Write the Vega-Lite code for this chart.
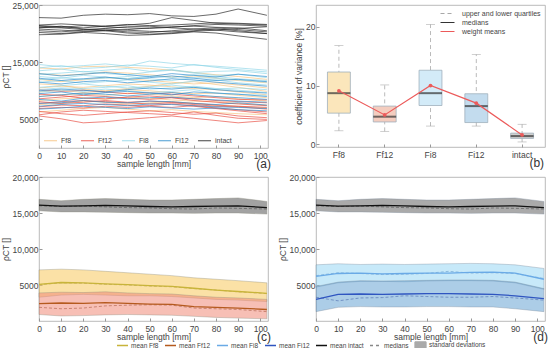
{
"$schema": "https://vega.github.io/schema/vega-lite/v6.json",
"padding": {"left": 0, "top": 0, "right": 0, "bottom": 0},
"background": "white",
"config": {
  "font": "Liberation Sans",
  "view": {"stroke": "#a8a8a8", "strokeWidth": 0.8},
  "axis": {"labelFontSize": 8.5, "titleFontSize": 8.5, "labelColor": "#444", "titleColor": "#444", "titleFontWeight": "normal", "grid": false, "domain": false, "tickColor": "#999", "tickSize": -3, "labelPadding": 4, "labelOverlap": false, "labelFlush": false},
  "axisX": {"labelPadding": 6},
  "legend": {"labelColor": "#444", "title": null}
},
"datasets": {
  "a": [
{"g":"Ff8","i":1,"x":0,"y":14000},{"g":"Ff8","i":1,"x":10,"y":13800},{"g":"Ff8","i":1,"x":20,"y":14200},{"g":"Ff8","i":1,"x":30,"y":14300},{"g":"Ff8","i":1,"x":40,"y":14100},{"g":"Ff8","i":1,"x":50,"y":13900},{"g":"Ff8","i":1,"x":60,"y":13600},{"g":"Ff8","i":1,"x":70,"y":13200},{"g":"Ff8","i":1,"x":80,"y":12800},{"g":"Ff8","i":1,"x":90,"y":12500},{"g":"Ff8","i":1,"x":103,"y":12000},
{"g":"Ff8","i":2,"x":0,"y":12000},{"g":"Ff8","i":2,"x":10,"y":11600},{"g":"Ff8","i":2,"x":20,"y":11900},{"g":"Ff8","i":2,"x":30,"y":12300},{"g":"Ff8","i":2,"x":40,"y":12100},{"g":"Ff8","i":2,"x":50,"y":11800},{"g":"Ff8","i":2,"x":60,"y":11500},{"g":"Ff8","i":2,"x":70,"y":11200},{"g":"Ff8","i":2,"x":80,"y":11400},{"g":"Ff8","i":2,"x":90,"y":11000},{"g":"Ff8","i":2,"x":103,"y":10500},
{"g":"Ff8","i":3,"x":0,"y":10500},{"g":"Ff8","i":3,"x":10,"y":10800},{"g":"Ff8","i":3,"x":20,"y":10600},{"g":"Ff8","i":3,"x":30,"y":10900},{"g":"Ff8","i":3,"x":40,"y":11200},{"g":"Ff8","i":3,"x":50,"y":11000},{"g":"Ff8","i":3,"x":60,"y":10700},{"g":"Ff8","i":3,"x":70,"y":10400},{"g":"Ff8","i":3,"x":80,"y":10200},{"g":"Ff8","i":3,"x":90,"y":9800},{"g":"Ff8","i":3,"x":103,"y":9300},
{"g":"Ff8","i":4,"x":0,"y":9000},{"g":"Ff8","i":4,"x":10,"y":9300},{"g":"Ff8","i":4,"x":20,"y":9500},{"g":"Ff8","i":4,"x":30,"y":9200},{"g":"Ff8","i":4,"x":40,"y":9600},{"g":"Ff8","i":4,"x":50,"y":9400},{"g":"Ff8","i":4,"x":60,"y":9100},{"g":"Ff8","i":4,"x":70,"y":8800},{"g":"Ff8","i":4,"x":80,"y":9000},{"g":"Ff8","i":4,"x":90,"y":8600},{"g":"Ff8","i":4,"x":103,"y":8200},
{"g":"Ff8","i":5,"x":0,"y":7600},{"g":"Ff8","i":5,"x":10,"y":7800},{"g":"Ff8","i":5,"x":20,"y":8200},{"g":"Ff8","i":5,"x":30,"y":8000},{"g":"Ff8","i":5,"x":40,"y":7700},{"g":"Ff8","i":5,"x":50,"y":7900},{"g":"Ff8","i":5,"x":60,"y":8100},{"g":"Ff8","i":5,"x":70,"y":7800},{"g":"Ff8","i":5,"x":80,"y":7500},{"g":"Ff8","i":5,"x":90,"y":7300},{"g":"Ff8","i":5,"x":103,"y":7000},
{"g":"Ff8","i":6,"x":0,"y":6300},{"g":"Ff8","i":6,"x":10,"y":6600},{"g":"Ff8","i":6,"x":20,"y":6900},{"g":"Ff8","i":6,"x":30,"y":7100},{"g":"Ff8","i":6,"x":40,"y":6800},{"g":"Ff8","i":6,"x":50,"y":6500},{"g":"Ff8","i":6,"x":60,"y":6700},{"g":"Ff8","i":6,"x":70,"y":6400},{"g":"Ff8","i":6,"x":80,"y":6200},{"g":"Ff8","i":6,"x":90,"y":6000},{"g":"Ff8","i":6,"x":103,"y":5800},
{"g":"Ff8","i":7,"x":0,"y":11200},{"g":"Ff8","i":7,"x":10,"y":11000},{"g":"Ff8","i":7,"x":20,"y":10300},{"g":"Ff8","i":7,"x":30,"y":10000},{"g":"Ff8","i":7,"x":40,"y":10400},{"g":"Ff8","i":7,"x":50,"y":10800},{"g":"Ff8","i":7,"x":60,"y":11300},{"g":"Ff8","i":7,"x":70,"y":11600},{"g":"Ff8","i":7,"x":80,"y":11100},{"g":"Ff8","i":7,"x":90,"y":10600},{"g":"Ff8","i":7,"x":103,"y":9900},
{"g":"Ff8","i":39,"x":0,"y":13000},{"g":"Ff8","i":39,"x":10,"y":12700},{"g":"Ff8","i":39,"x":20,"y":12900},{"g":"Ff8","i":39,"x":30,"y":13300},{"g":"Ff8","i":39,"x":40,"y":13100},{"g":"Ff8","i":39,"x":50,"y":12800},{"g":"Ff8","i":39,"x":60,"y":12400},{"g":"Ff8","i":39,"x":70,"y":12600},{"g":"Ff8","i":39,"x":80,"y":12200},{"g":"Ff8","i":39,"x":90,"y":11800},{"g":"Ff8","i":39,"x":103,"y":11400},
{"g":"Ff8","i":40,"x":0,"y":8300},{"g":"Ff8","i":40,"x":10,"y":8600},{"g":"Ff8","i":40,"x":20,"y":8800},{"g":"Ff8","i":40,"x":30,"y":8500},{"g":"Ff8","i":40,"x":40,"y":8900},{"g":"Ff8","i":40,"x":50,"y":8700},{"g":"Ff8","i":40,"x":60,"y":8400},{"g":"Ff8","i":40,"x":70,"y":8200},{"g":"Ff8","i":40,"x":80,"y":8100},{"g":"Ff8","i":40,"x":90,"y":7800},{"g":"Ff8","i":40,"x":103,"y":7500},
{"g":"Ff8","i":41,"x":0,"y":9800},{"g":"Ff8","i":41,"x":10,"y":10100},{"g":"Ff8","i":41,"x":20,"y":9700},{"g":"Ff8","i":41,"x":30,"y":9900},{"g":"Ff8","i":41,"x":40,"y":10200},{"g":"Ff8","i":41,"x":50,"y":10000},{"g":"Ff8","i":41,"x":60,"y":9700},{"g":"Ff8","i":41,"x":70,"y":9500},{"g":"Ff8","i":41,"x":80,"y":9600},{"g":"Ff8","i":41,"x":90,"y":9200},{"g":"Ff8","i":41,"x":103,"y":8800},
{"g":"Ff12","i":8,"x":0,"y":10200},{"g":"Ff12","i":8,"x":10,"y":9900},{"g":"Ff12","i":8,"x":20,"y":10100},{"g":"Ff12","i":8,"x":30,"y":9800},{"g":"Ff12","i":8,"x":40,"y":9500},{"g":"Ff12","i":8,"x":50,"y":9700},{"g":"Ff12","i":8,"x":60,"y":9400},{"g":"Ff12","i":8,"x":70,"y":9100},{"g":"Ff12","i":8,"x":80,"y":8800},{"g":"Ff12","i":8,"x":90,"y":8500},{"g":"Ff12","i":8,"x":103,"y":8400},
{"g":"Ff12","i":9,"x":0,"y":8600},{"g":"Ff12","i":9,"x":10,"y":8900},{"g":"Ff12","i":9,"x":20,"y":9200},{"g":"Ff12","i":9,"x":30,"y":9000},{"g":"Ff12","i":9,"x":40,"y":8700},{"g":"Ff12","i":9,"x":50,"y":8500},{"g":"Ff12","i":9,"x":60,"y":8800},{"g":"Ff12","i":9,"x":70,"y":8300},{"g":"Ff12","i":9,"x":80,"y":8000},{"g":"Ff12","i":9,"x":90,"y":7700},{"g":"Ff12","i":9,"x":103,"y":7400},
{"g":"Ff12","i":10,"x":0,"y":7200},{"g":"Ff12","i":10,"x":10,"y":7500},{"g":"Ff12","i":10,"x":20,"y":7400},{"g":"Ff12","i":10,"x":30,"y":7700},{"g":"Ff12","i":10,"x":40,"y":7500},{"g":"Ff12","i":10,"x":50,"y":7300},{"g":"Ff12","i":10,"x":60,"y":7100},{"g":"Ff12","i":10,"x":70,"y":7400},{"g":"Ff12","i":10,"x":80,"y":7000},{"g":"Ff12","i":10,"x":90,"y":6700},{"g":"Ff12","i":10,"x":103,"y":6300},
{"g":"Ff12","i":11,"x":0,"y":6400},{"g":"Ff12","i":11,"x":10,"y":6000},{"g":"Ff12","i":11,"x":20,"y":5700},{"g":"Ff12","i":11,"x":30,"y":6000},{"g":"Ff12","i":11,"x":40,"y":6300},{"g":"Ff12","i":11,"x":50,"y":6500},{"g":"Ff12","i":11,"x":60,"y":6200},{"g":"Ff12","i":11,"x":70,"y":5900},{"g":"Ff12","i":11,"x":80,"y":6100},{"g":"Ff12","i":11,"x":90,"y":5600},{"g":"Ff12","i":11,"x":103,"y":5300},
{"g":"Ff12","i":12,"x":0,"y":5600},{"g":"Ff12","i":12,"x":10,"y":5100},{"g":"Ff12","i":12,"x":20,"y":4400},{"g":"Ff12","i":12,"x":30,"y":4600},{"g":"Ff12","i":12,"x":40,"y":5000},{"g":"Ff12","i":12,"x":50,"y":5300},{"g":"Ff12","i":12,"x":60,"y":5600},{"g":"Ff12","i":12,"x":70,"y":5200},{"g":"Ff12","i":12,"x":80,"y":4800},{"g":"Ff12","i":12,"x":90,"y":4400},{"g":"Ff12","i":12,"x":103,"y":4800},
{"g":"Ff12","i":13,"x":0,"y":6900},{"g":"Ff12","i":13,"x":10,"y":7100},{"g":"Ff12","i":13,"x":20,"y":7000},{"g":"Ff12","i":13,"x":30,"y":7300},{"g":"Ff12","i":13,"x":40,"y":7100},{"g":"Ff12","i":13,"x":50,"y":7400},{"g":"Ff12","i":13,"x":60,"y":7700},{"g":"Ff12","i":13,"x":70,"y":7300},{"g":"Ff12","i":13,"x":80,"y":6900},{"g":"Ff12","i":13,"x":90,"y":6500},{"g":"Ff12","i":13,"x":103,"y":6000},
{"g":"Ff12","i":14,"x":0,"y":9400},{"g":"Ff12","i":14,"x":10,"y":9200},{"g":"Ff12","i":14,"x":20,"y":8700},{"g":"Ff12","i":14,"x":30,"y":8600},{"g":"Ff12","i":14,"x":40,"y":8900},{"g":"Ff12","i":14,"x":50,"y":9100},{"g":"Ff12","i":14,"x":60,"y":8800},{"g":"Ff12","i":14,"x":70,"y":8600},{"g":"Ff12","i":14,"x":80,"y":8300},{"g":"Ff12","i":14,"x":90,"y":8100},{"g":"Ff12","i":14,"x":103,"y":7900},
{"g":"Ff12","i":42,"x":0,"y":7800},{"g":"Ff12","i":42,"x":10,"y":8100},{"g":"Ff12","i":42,"x":20,"y":8300},{"g":"Ff12","i":42,"x":30,"y":8100},{"g":"Ff12","i":42,"x":40,"y":7900},{"g":"Ff12","i":42,"x":50,"y":7700},{"g":"Ff12","i":42,"x":60,"y":7900},{"g":"Ff12","i":42,"x":70,"y":7600},{"g":"Ff12","i":42,"x":80,"y":7300},{"g":"Ff12","i":42,"x":90,"y":7200},{"g":"Ff12","i":42,"x":103,"y":6800},
{"g":"Ff12","i":43,"x":0,"y":5800},{"g":"Ff12","i":43,"x":10,"y":6300},{"g":"Ff12","i":43,"x":20,"y":6600},{"g":"Ff12","i":43,"x":30,"y":6400},{"g":"Ff12","i":43,"x":40,"y":6200},{"g":"Ff12","i":43,"x":50,"y":6000},{"g":"Ff12","i":43,"x":60,"y":5800},{"g":"Ff12","i":43,"x":70,"y":6300},{"g":"Ff12","i":43,"x":80,"y":5700},{"g":"Ff12","i":43,"x":90,"y":5200},{"g":"Ff12","i":43,"x":103,"y":5000},
{"g":"Ff12","i":44,"x":0,"y":8100},{"g":"Ff12","i":44,"x":10,"y":7800},{"g":"Ff12","i":44,"x":20,"y":8000},{"g":"Ff12","i":44,"x":30,"y":8300},{"g":"Ff12","i":44,"x":40,"y":8000},{"g":"Ff12","i":44,"x":50,"y":8200},{"g":"Ff12","i":44,"x":60,"y":8000},{"g":"Ff12","i":44,"x":70,"y":7800},{"g":"Ff12","i":44,"x":80,"y":7500},{"g":"Ff12","i":44,"x":90,"y":7300},{"g":"Ff12","i":44,"x":103,"y":7100},
{"g":"Fi8","i":15,"x":0,"y":14600},{"g":"Fi8","i":15,"x":10,"y":14200},{"g":"Fi8","i":15,"x":20,"y":14400},{"g":"Fi8","i":15,"x":30,"y":14700},{"g":"Fi8","i":15,"x":40,"y":14300},{"g":"Fi8","i":15,"x":50,"y":15200},{"g":"Fi8","i":15,"x":60,"y":14800},{"g":"Fi8","i":15,"x":70,"y":14500},{"g":"Fi8","i":15,"x":80,"y":14300},{"g":"Fi8","i":15,"x":90,"y":14000},{"g":"Fi8","i":15,"x":103,"y":13600},
{"g":"Fi8","i":16,"x":0,"y":13500},{"g":"Fi8","i":16,"x":10,"y":13800},{"g":"Fi8","i":16,"x":20,"y":13300},{"g":"Fi8","i":16,"x":30,"y":13600},{"g":"Fi8","i":16,"x":40,"y":13900},{"g":"Fi8","i":16,"x":50,"y":13400},{"g":"Fi8","i":16,"x":60,"y":13700},{"g":"Fi8","i":16,"x":70,"y":13200},{"g":"Fi8","i":16,"x":80,"y":13400},{"g":"Fi8","i":16,"x":90,"y":13500},{"g":"Fi8","i":16,"x":103,"y":13000},
{"g":"Fi8","i":17,"x":0,"y":12500},{"g":"Fi8","i":17,"x":10,"y":12200},{"g":"Fi8","i":17,"x":20,"y":12700},{"g":"Fi8","i":17,"x":30,"y":12400},{"g":"Fi8","i":17,"x":40,"y":12100},{"g":"Fi8","i":17,"x":50,"y":12600},{"g":"Fi8","i":17,"x":60,"y":12300},{"g":"Fi8","i":17,"x":70,"y":12800},{"g":"Fi8","i":17,"x":80,"y":12500},{"g":"Fi8","i":17,"x":90,"y":12100},{"g":"Fi8","i":17,"x":103,"y":11800},
{"g":"Fi8","i":18,"x":0,"y":11500},{"g":"Fi8","i":18,"x":10,"y":11800},{"g":"Fi8","i":18,"x":20,"y":11300},{"g":"Fi8","i":18,"x":30,"y":11600},{"g":"Fi8","i":18,"x":40,"y":11900},{"g":"Fi8","i":18,"x":50,"y":11500},{"g":"Fi8","i":18,"x":60,"y":11200},{"g":"Fi8","i":18,"x":70,"y":11700},{"g":"Fi8","i":18,"x":80,"y":11900},{"g":"Fi8","i":18,"x":90,"y":11400},{"g":"Fi8","i":18,"x":103,"y":11000},
{"g":"Fi8","i":19,"x":0,"y":10600},{"g":"Fi8","i":19,"x":10,"y":10900},{"g":"Fi8","i":19,"x":20,"y":11200},{"g":"Fi8","i":19,"x":30,"y":10800},{"g":"Fi8","i":19,"x":40,"y":10500},{"g":"Fi8","i":19,"x":50,"y":10700},{"g":"Fi8","i":19,"x":60,"y":11000},{"g":"Fi8","i":19,"x":70,"y":10600},{"g":"Fi8","i":19,"x":80,"y":10300},{"g":"Fi8","i":19,"x":90,"y":10500},{"g":"Fi8","i":19,"x":103,"y":10200},
{"g":"Fi8","i":20,"x":0,"y":9800},{"g":"Fi8","i":20,"x":10,"y":10100},{"g":"Fi8","i":20,"x":20,"y":9900},{"g":"Fi8","i":20,"x":30,"y":10300},{"g":"Fi8","i":20,"x":40,"y":10000},{"g":"Fi8","i":20,"x":50,"y":9700},{"g":"Fi8","i":20,"x":60,"y":9900},{"g":"Fi8","i":20,"x":70,"y":10200},{"g":"Fi8","i":20,"x":80,"y":9600},{"g":"Fi8","i":20,"x":90,"y":9400},{"g":"Fi8","i":20,"x":103,"y":9200},
{"g":"Fi8","i":21,"x":0,"y":12900},{"g":"Fi8","i":21,"x":10,"y":13100},{"g":"Fi8","i":21,"x":20,"y":13400},{"g":"Fi8","i":21,"x":30,"y":13000},{"g":"Fi8","i":21,"x":40,"y":12800},{"g":"Fi8","i":21,"x":50,"y":13300},{"g":"Fi8","i":21,"x":60,"y":13600},{"g":"Fi8","i":21,"x":70,"y":13100},{"g":"Fi8","i":21,"x":80,"y":12700},{"g":"Fi8","i":21,"x":90,"y":12900},{"g":"Fi8","i":21,"x":103,"y":12300},
{"g":"Fi8","i":45,"x":0,"y":14000},{"g":"Fi8","i":45,"x":10,"y":14400},{"g":"Fi8","i":45,"x":20,"y":13900},{"g":"Fi8","i":45,"x":30,"y":14100},{"g":"Fi8","i":45,"x":40,"y":14500},{"g":"Fi8","i":45,"x":50,"y":14300},{"g":"Fi8","i":45,"x":60,"y":14000},{"g":"Fi8","i":45,"x":70,"y":14600},{"g":"Fi8","i":45,"x":80,"y":14100},{"g":"Fi8","i":45,"x":90,"y":13700},{"g":"Fi8","i":45,"x":103,"y":13300},
{"g":"Fi8","i":46,"x":0,"y":11900},{"g":"Fi8","i":46,"x":10,"y":12300},{"g":"Fi8","i":46,"x":20,"y":12000},{"g":"Fi8","i":46,"x":30,"y":12200},{"g":"Fi8","i":46,"x":40,"y":12500},{"g":"Fi8","i":46,"x":50,"y":12100},{"g":"Fi8","i":46,"x":60,"y":11800},{"g":"Fi8","i":46,"x":70,"y":12300},{"g":"Fi8","i":46,"x":80,"y":12200},{"g":"Fi8","i":46,"x":90,"y":11900},{"g":"Fi8","i":46,"x":103,"y":11500},
{"g":"Fi8","i":47,"x":0,"y":10200},{"g":"Fi8","i":47,"x":10,"y":10500},{"g":"Fi8","i":47,"x":20,"y":10400},{"g":"Fi8","i":47,"x":30,"y":10600},{"g":"Fi8","i":47,"x":40,"y":10900},{"g":"Fi8","i":47,"x":50,"y":10300},{"g":"Fi8","i":47,"x":60,"y":10500},{"g":"Fi8","i":47,"x":70,"y":10800},{"g":"Fi8","i":47,"x":80,"y":10400},{"g":"Fi8","i":47,"x":90,"y":10100},{"g":"Fi8","i":47,"x":103,"y":9700},
{"g":"Fi12","i":22,"x":0,"y":13000},{"g":"Fi12","i":22,"x":10,"y":12600},{"g":"Fi12","i":22,"x":20,"y":12900},{"g":"Fi12","i":22,"x":30,"y":13200},{"g":"Fi12","i":22,"x":40,"y":12800},{"g":"Fi12","i":22,"x":50,"y":12500},{"g":"Fi12","i":22,"x":60,"y":13000},{"g":"Fi12","i":22,"x":70,"y":12700},{"g":"Fi12","i":22,"x":80,"y":12400},{"g":"Fi12","i":22,"x":90,"y":12900},{"g":"Fi12","i":22,"x":103,"y":12500},
{"g":"Fi12","i":23,"x":0,"y":11500},{"g":"Fi12","i":23,"x":10,"y":11200},{"g":"Fi12","i":23,"x":20,"y":11600},{"g":"Fi12","i":23,"x":30,"y":11800},{"g":"Fi12","i":23,"x":40,"y":11400},{"g":"Fi12","i":23,"x":50,"y":11700},{"g":"Fi12","i":23,"x":60,"y":12100},{"g":"Fi12","i":23,"x":70,"y":11900},{"g":"Fi12","i":23,"x":80,"y":11500},{"g":"Fi12","i":23,"x":90,"y":11200},{"g":"Fi12","i":23,"x":103,"y":10800},
{"g":"Fi12","i":24,"x":0,"y":10000},{"g":"Fi12","i":24,"x":10,"y":10300},{"g":"Fi12","i":24,"x":20,"y":10100},{"g":"Fi12","i":24,"x":30,"y":9800},{"g":"Fi12","i":24,"x":40,"y":10200},{"g":"Fi12","i":24,"x":50,"y":10500},{"g":"Fi12","i":24,"x":60,"y":10300},{"g":"Fi12","i":24,"x":70,"y":10600},{"g":"Fi12","i":24,"x":80,"y":10200},{"g":"Fi12","i":24,"x":90,"y":9900},{"g":"Fi12","i":24,"x":103,"y":9600},
{"g":"Fi12","i":25,"x":0,"y":9000},{"g":"Fi12","i":25,"x":10,"y":9300},{"g":"Fi12","i":25,"x":20,"y":9600},{"g":"Fi12","i":25,"x":30,"y":9400},{"g":"Fi12","i":25,"x":40,"y":9100},{"g":"Fi12","i":25,"x":50,"y":9400},{"g":"Fi12","i":25,"x":60,"y":9700},{"g":"Fi12","i":25,"x":70,"y":9300},{"g":"Fi12","i":25,"x":80,"y":9000},{"g":"Fi12","i":25,"x":90,"y":8800},{"g":"Fi12","i":25,"x":103,"y":8500},
{"g":"Fi12","i":26,"x":0,"y":7800},{"g":"Fi12","i":26,"x":10,"y":7900},{"g":"Fi12","i":26,"x":20,"y":8300},{"g":"Fi12","i":26,"x":30,"y":8000},{"g":"Fi12","i":26,"x":40,"y":7900},{"g":"Fi12","i":26,"x":50,"y":8200},{"g":"Fi12","i":26,"x":60,"y":8100},{"g":"Fi12","i":26,"x":70,"y":7800},{"g":"Fi12","i":26,"x":80,"y":7600},{"g":"Fi12","i":26,"x":90,"y":7900},{"g":"Fi12","i":26,"x":103,"y":7500},
{"g":"Fi12","i":27,"x":0,"y":6800},{"g":"Fi12","i":27,"x":10,"y":7000},{"g":"Fi12","i":27,"x":20,"y":7300},{"g":"Fi12","i":27,"x":30,"y":7100},{"g":"Fi12","i":27,"x":40,"y":6900},{"g":"Fi12","i":27,"x":50,"y":7200},{"g":"Fi12","i":27,"x":60,"y":7000},{"g":"Fi12","i":27,"x":70,"y":6800},{"g":"Fi12","i":27,"x":80,"y":7000},{"g":"Fi12","i":27,"x":90,"y":6700},{"g":"Fi12","i":27,"x":103,"y":6500},
{"g":"Fi12","i":28,"x":0,"y":7300},{"g":"Fi12","i":28,"x":10,"y":7600},{"g":"Fi12","i":28,"x":20,"y":7800},{"g":"Fi12","i":28,"x":30,"y":7600},{"g":"Fi12","i":28,"x":40,"y":7400},{"g":"Fi12","i":28,"x":50,"y":7700},{"g":"Fi12","i":28,"x":60,"y":7600},{"g":"Fi12","i":28,"x":70,"y":7400},{"g":"Fi12","i":28,"x":80,"y":7200},{"g":"Fi12","i":28,"x":90,"y":7100},{"g":"Fi12","i":28,"x":103,"y":6900},
{"g":"Fi12","i":48,"x":0,"y":12200},{"g":"Fi12","i":48,"x":10,"y":11800},{"g":"Fi12","i":48,"x":20,"y":12100},{"g":"Fi12","i":48,"x":30,"y":12400},{"g":"Fi12","i":48,"x":40,"y":12000},{"g":"Fi12","i":48,"x":50,"y":12300},{"g":"Fi12","i":48,"x":60,"y":12600},{"g":"Fi12","i":48,"x":70,"y":12200},{"g":"Fi12","i":48,"x":80,"y":11800},{"g":"Fi12","i":48,"x":90,"y":12000},{"g":"Fi12","i":48,"x":103,"y":11600},
{"g":"Fi12","i":49,"x":0,"y":8500},{"g":"Fi12","i":49,"x":10,"y":8200},{"g":"Fi12","i":49,"x":20,"y":8700},{"g":"Fi12","i":49,"x":30,"y":8900},{"g":"Fi12","i":49,"x":40,"y":8600},{"g":"Fi12","i":49,"x":50,"y":8800},{"g":"Fi12","i":49,"x":60,"y":8900},{"g":"Fi12","i":49,"x":70,"y":8600},{"g":"Fi12","i":49,"x":80,"y":8400},{"g":"Fi12","i":49,"x":90,"y":8200},{"g":"Fi12","i":49,"x":103,"y":8000},
{"g":"Fi12","i":50,"x":0,"y":9500},{"g":"Fi12","i":50,"x":10,"y":9800},{"g":"Fi12","i":50,"x":20,"y":9300},{"g":"Fi12","i":50,"x":30,"y":9700},{"g":"Fi12","i":50,"x":40,"y":9900},{"g":"Fi12","i":50,"x":50,"y":9600},{"g":"Fi12","i":50,"x":60,"y":9300},{"g":"Fi12","i":50,"x":70,"y":9800},{"g":"Fi12","i":50,"x":80,"y":9600},{"g":"Fi12","i":50,"x":90,"y":9400},{"g":"Fi12","i":50,"x":103,"y":9000},
{"g":"intact","i":29,"x":0,"y":22800},{"g":"intact","i":29,"x":10,"y":22700},{"g":"intact","i":29,"x":20,"y":23200},{"g":"intact","i":29,"x":30,"y":23400},{"g":"intact","i":29,"x":40,"y":23300},{"g":"intact","i":29,"x":50,"y":23500},{"g":"intact","i":29,"x":60,"y":23100},{"g":"intact","i":29,"x":70,"y":23000},{"g":"intact","i":29,"x":80,"y":23400},{"g":"intact","i":29,"x":90,"y":24300},{"g":"intact","i":29,"x":103,"y":23200},
{"g":"intact","i":30,"x":0,"y":21400},{"g":"intact","i":30,"x":10,"y":21200},{"g":"intact","i":30,"x":20,"y":21000},{"g":"intact","i":30,"x":30,"y":21300},{"g":"intact","i":30,"x":40,"y":21500},{"g":"intact","i":30,"x":50,"y":21800},{"g":"intact","i":30,"x":60,"y":22800},{"g":"intact","i":30,"x":70,"y":22300},{"g":"intact","i":30,"x":80,"y":21800},{"g":"intact","i":30,"x":90,"y":21700},{"g":"intact","i":30,"x":103,"y":21500},
{"g":"intact","i":31,"x":0,"y":21300},{"g":"intact","i":31,"x":10,"y":21100},{"g":"intact","i":31,"x":20,"y":21400},{"g":"intact","i":31,"x":30,"y":21200},{"g":"intact","i":31,"x":40,"y":21000},{"g":"intact","i":31,"x":50,"y":20900},{"g":"intact","i":31,"x":60,"y":21100},{"g":"intact","i":31,"x":70,"y":21400},{"g":"intact","i":31,"x":80,"y":21600},{"g":"intact","i":31,"x":90,"y":21500},{"g":"intact","i":31,"x":103,"y":21300},
{"g":"intact","i":32,"x":0,"y":21000},{"g":"intact","i":32,"x":10,"y":21300},{"g":"intact","i":32,"x":20,"y":20800},{"g":"intact","i":32,"x":30,"y":20500},{"g":"intact","i":32,"x":40,"y":20700},{"g":"intact","i":32,"x":50,"y":21000},{"g":"intact","i":32,"x":60,"y":21200},{"g":"intact","i":32,"x":70,"y":21300},{"g":"intact","i":32,"x":80,"y":21100},{"g":"intact","i":32,"x":90,"y":21000},{"g":"intact","i":32,"x":103,"y":20500},
{"g":"intact","i":33,"x":0,"y":20800},{"g":"intact","i":33,"x":10,"y":20600},{"g":"intact","i":33,"x":20,"y":20400},{"g":"intact","i":33,"x":30,"y":20600},{"g":"intact","i":33,"x":40,"y":20300},{"g":"intact","i":33,"x":50,"y":20200},{"g":"intact","i":33,"x":60,"y":20500},{"g":"intact","i":33,"x":70,"y":20800},{"g":"intact","i":33,"x":80,"y":21000},{"g":"intact","i":33,"x":90,"y":20700},{"g":"intact","i":33,"x":103,"y":20300},
{"g":"intact","i":34,"x":0,"y":20200},{"g":"intact","i":34,"x":10,"y":20000},{"g":"intact","i":34,"x":20,"y":20300},{"g":"intact","i":34,"x":30,"y":20500},{"g":"intact","i":34,"x":40,"y":20100},{"g":"intact","i":34,"x":50,"y":19900},{"g":"intact","i":34,"x":60,"y":20100},{"g":"intact","i":34,"x":70,"y":20400},{"g":"intact","i":34,"x":80,"y":20600},{"g":"intact","i":34,"x":90,"y":20300},{"g":"intact","i":34,"x":103,"y":20000},
{"g":"intact","i":35,"x":0,"y":19800},{"g":"intact","i":35,"x":10,"y":19900},{"g":"intact","i":35,"x":20,"y":20200},{"g":"intact","i":35,"x":30,"y":20000},{"g":"intact","i":35,"x":40,"y":19700},{"g":"intact","i":35,"x":50,"y":19800},{"g":"intact","i":35,"x":60,"y":20000},{"g":"intact","i":35,"x":70,"y":20300},{"g":"intact","i":35,"x":80,"y":20100},{"g":"intact","i":35,"x":90,"y":19600},{"g":"intact","i":35,"x":103,"y":19000},
{"g":"intact","i":36,"x":0,"y":21500},{"g":"intact","i":36,"x":10,"y":21700},{"g":"intact","i":36,"x":20,"y":21500},{"g":"intact","i":36,"x":30,"y":21300},{"g":"intact","i":36,"x":40,"y":21600},{"g":"intact","i":36,"x":50,"y":21400},{"g":"intact","i":36,"x":60,"y":21500},{"g":"intact","i":36,"x":70,"y":21700},{"g":"intact","i":36,"x":80,"y":21900},{"g":"intact","i":36,"x":90,"y":21800},{"g":"intact","i":36,"x":103,"y":21600},
{"g":"intact","i":37,"x":0,"y":21100},{"g":"intact","i":37,"x":10,"y":21000},{"g":"intact","i":37,"x":20,"y":20700},{"g":"intact","i":37,"x":30,"y":20900},{"g":"intact","i":37,"x":40,"y":21200},{"g":"intact","i":37,"x":50,"y":21300},{"g":"intact","i":37,"x":60,"y":21000},{"g":"intact","i":37,"x":70,"y":20800},{"g":"intact","i":37,"x":80,"y":20600},{"g":"intact","i":37,"x":90,"y":20900},{"g":"intact","i":37,"x":103,"y":21200},
{"g":"intact","i":38,"x":0,"y":20500},{"g":"intact","i":38,"x":10,"y":20300},{"g":"intact","i":38,"x":20,"y":20600},{"g":"intact","i":38,"x":30,"y":20800},{"g":"intact","i":38,"x":40,"y":20600},{"g":"intact","i":38,"x":50,"y":20400},{"g":"intact","i":38,"x":60,"y":20300},{"g":"intact","i":38,"x":70,"y":20500},{"g":"intact","i":38,"x":80,"y":20800},{"g":"intact","i":38,"x":90,"y":20500},{"g":"intact","i":38,"x":103,"y":20000}
  ],
  "b": [
{"c":"Ff8","lo":2.3,"q1":5.3,"med":8.7,"q3":12.3,"hi":16.8,"mean":9.1},
{"c":"Ff12","lo":2.2,"q1":3.8,"med":4.7,"q3":6.5,"hi":10.1,"mean":5.0},
{"c":"Fi8","lo":3.1,"q1":6.6,"med":8.7,"q3":12.6,"hi":20.4,"mean":10.0},
{"c":"Fi12","lo":3.1,"q1":3.7,"med":6.5,"q3":8.6,"hi":15.3,"mean":7.0},
{"c":"intact","lo":0.4,"q1":1.0,"med":1.4,"q3":1.9,"hi":3.4,"mean":1.6}
  ],
  "cd": [
{"p":"c","s":"mean intact","x":0,"m":16100,"md":16000,"lo":15300,"hi":16900},{"p":"c","s":"mean intact","x":10,"m":15950,"md":15900,"lo":15150,"hi":16700},{"p":"c","s":"mean intact","x":20,"m":16000,"md":15950,"lo":15150,"hi":16900},{"p":"c","s":"mean intact","x":30,"m":16050,"md":15850,"lo":15100,"hi":17000},{"p":"c","s":"mean intact","x":40,"m":16000,"md":15750,"lo":15050,"hi":16900},{"p":"c","s":"mean intact","x":50,"m":15900,"md":15700,"lo":15000,"hi":16800},{"p":"c","s":"mean intact","x":60,"m":15850,"md":15600,"lo":15000,"hi":16800},{"p":"c","s":"mean intact","x":70,"m":15900,"md":15550,"lo":14950,"hi":16900},{"p":"c","s":"mean intact","x":80,"m":15950,"md":15700,"lo":15000,"hi":17000},{"p":"c","s":"mean intact","x":90,"m":16000,"md":15650,"lo":15000,"hi":17100},{"p":"c","s":"mean intact","x":103,"m":15750,"md":15550,"lo":14850,"hi":16600},
{"p":"d","s":"mean intact","x":0,"m":16100,"md":16000,"lo":15300,"hi":16900},{"p":"d","s":"mean intact","x":10,"m":15950,"md":15900,"lo":15150,"hi":16700},{"p":"d","s":"mean intact","x":20,"m":16000,"md":15950,"lo":15150,"hi":16900},{"p":"d","s":"mean intact","x":30,"m":16050,"md":15850,"lo":15100,"hi":17000},{"p":"d","s":"mean intact","x":40,"m":16000,"md":15750,"lo":15050,"hi":16900},{"p":"d","s":"mean intact","x":50,"m":15900,"md":15700,"lo":15000,"hi":16800},{"p":"d","s":"mean intact","x":60,"m":15850,"md":15600,"lo":15000,"hi":16800},{"p":"d","s":"mean intact","x":70,"m":15900,"md":15550,"lo":14950,"hi":16900},{"p":"d","s":"mean intact","x":80,"m":15950,"md":15700,"lo":15000,"hi":17000},{"p":"d","s":"mean intact","x":90,"m":16000,"md":15650,"lo":15000,"hi":17100},{"p":"d","s":"mean intact","x":103,"m":15750,"md":15550,"lo":14850,"hi":16600},
{"p":"c","s":"mean Ff8","x":0,"m":5100,"md":5050,"lo":3300,"hi":7100},{"p":"c","s":"mean Ff8","x":10,"m":5350,"md":5300,"lo":3600,"hi":7200},{"p":"c","s":"mean Ff8","x":20,"m":5300,"md":5250,"lo":3700,"hi":7100},{"p":"c","s":"mean Ff8","x":30,"m":5150,"md":5100,"lo":3600,"hi":6900},{"p":"c","s":"mean Ff8","x":40,"m":5050,"md":5000,"lo":3500,"hi":6700},{"p":"c","s":"mean Ff8","x":50,"m":4900,"md":4850,"lo":3500,"hi":6500},{"p":"c","s":"mean Ff8","x":60,"m":4800,"md":4750,"lo":3400,"hi":6300},{"p":"c","s":"mean Ff8","x":70,"m":4550,"md":4500,"lo":3200,"hi":6000},{"p":"c","s":"mean Ff8","x":80,"m":4300,"md":4300,"lo":3000,"hi":5800},{"p":"c","s":"mean Ff8","x":90,"m":4100,"md":4050,"lo":2900,"hi":5600},{"p":"c","s":"mean Ff8","x":103,"m":3850,"md":3800,"lo":2700,"hi":5300},
{"p":"c","s":"mean Ff12","x":0,"m":2400,"md":1900,"lo":900,"hi":3900},{"p":"c","s":"mean Ff12","x":10,"m":2500,"md":1700,"lo":700,"hi":4000},{"p":"c","s":"mean Ff12","x":20,"m":2450,"md":1800,"lo":750,"hi":3950},{"p":"c","s":"mean Ff12","x":30,"m":2550,"md":2100,"lo":850,"hi":4050},{"p":"c","s":"mean Ff12","x":40,"m":2450,"md":2200,"lo":900,"hi":3900},{"p":"c","s":"mean Ff12","x":50,"m":2350,"md":2250,"lo":850,"hi":3800},{"p":"c","s":"mean Ff12","x":60,"m":2300,"md":2200,"lo":800,"hi":3750},{"p":"c","s":"mean Ff12","x":70,"m":2000,"md":1800,"lo":650,"hi":3500},{"p":"c","s":"mean Ff12","x":80,"m":1900,"md":1700,"lo":500,"hi":3300},{"p":"c","s":"mean Ff12","x":90,"m":1800,"md":1600,"lo":400,"hi":3200},{"p":"c","s":"mean Ff12","x":103,"m":1600,"md":1300,"lo":300,"hi":3000},
{"p":"d","s":"mean Fi8","x":0,"m":6200,"md":6300,"lo":4700,"hi":7800},{"p":"d","s":"mean Fi8","x":10,"m":6600,"md":6700,"lo":5300,"hi":7950},{"p":"d","s":"mean Fi8","x":20,"m":6650,"md":6600,"lo":5500,"hi":7850},{"p":"d","s":"mean Fi8","x":30,"m":6550,"md":6450,"lo":5500,"hi":7900},{"p":"d","s":"mean Fi8","x":40,"m":6600,"md":6500,"lo":5450,"hi":7850},{"p":"d","s":"mean Fi8","x":50,"m":6650,"md":6600,"lo":5550,"hi":7900},{"p":"d","s":"mean Fi8","x":60,"m":6650,"md":6900,"lo":5600,"hi":7950},{"p":"d","s":"mean Fi8","x":70,"m":6750,"md":6650,"lo":5600,"hi":8000},{"p":"d","s":"mean Fi8","x":80,"m":6800,"md":6700,"lo":5550,"hi":7950},{"p":"d","s":"mean Fi8","x":90,"m":6650,"md":6600,"lo":5300,"hi":7800},{"p":"d","s":"mean Fi8","x":103,"m":5800,"md":5900,"lo":4400,"hi":7300},
{"p":"d","s":"mean Fi12","x":0,"m":3000,"md":3300,"lo":1300,"hi":4800},{"p":"d","s":"mean Fi12","x":10,"m":3700,"md":2800,"lo":1900,"hi":5400},{"p":"d","s":"mean Fi12","x":20,"m":3750,"md":3200,"lo":2000,"hi":5600},{"p":"d","s":"mean Fi12","x":30,"m":3700,"md":3250,"lo":1950,"hi":5550},{"p":"d","s":"mean Fi12","x":40,"m":3750,"md":3500,"lo":1950,"hi":5600},{"p":"d","s":"mean Fi12","x":50,"m":3800,"md":3400,"lo":2000,"hi":5650},{"p":"d","s":"mean Fi12","x":60,"m":3800,"md":3300,"lo":2000,"hi":5700},{"p":"d","s":"mean Fi12","x":70,"m":3750,"md":3300,"lo":1950,"hi":5700},{"p":"d","s":"mean Fi12","x":80,"m":3700,"md":3400,"lo":1950,"hi":5650},{"p":"d","s":"mean Fi12","x":90,"m":3500,"md":3200,"lo":1700,"hi":5400},{"p":"d","s":"mean Fi12","x":103,"m":3100,"md":2900,"lo":1300,"hi":4500}
  ]
},
"columns": 2,
"spacing": {"row": 29, "column": 48},
"bounds": "flush",
"resolve": {"scale": {"x": "independent", "y": "independent", "color": "independent", "fill": "independent", "stroke": "independent"}, "legend": {"color": "independent", "fill": "independent", "stroke": "independent"}, "axis": {"x": "independent", "y": "independent"}},
"concat": [
  {
    "width": 229, "height": 143,
    "encoding": {
      "x": {"field": "x", "type": "quantitative", "scale": {"domain": [0, 103.5], "nice": false}, "axis": {"values": [0,10,20,30,40,50,60,70,80,90,100], "title": "sample length [mm]", "titlePadding": 0}}
    },
    "layer": [
      {"data": {"name": "a"},
       "mark": {"type": "line", "strokeWidth": 0.8, "opacity": 0.85},
       "encoding": {
         "y": {"field": "y", "type": "quantitative", "scale": {"domain": [0, 25000], "nice": false}, "axis": {"values": [5000,10000,15000,20000,25000], "labelExpr": "datum.value >= 10000 ? format(datum.value, ',') : format(datum.value, 'd')", "title": "ρCT []", "titlePadding": 2}},
         "detail": {"field": "i", "type": "nominal"},
         "color": {"field": "g", "type": "nominal", "scale": {"domain": ["Ff8","Ff12","Fi8","Fi12","intact"], "range": ["#f6c27e","#e84a3e","#8fd6e8","#2b8ccc","#222222"]},
           "legend": {"orient": "bottom-left", "direction": "horizontal", "symbolType": "stroke", "symbolSize": 170, "symbolStrokeWidth": 1, "labelFontSize": 7, "labelOffset": 3, "columnPadding": 6, "offset": 4}}
       }},
      {"data": {"values": [{"x": 103.5, "y": 0, "t": "(a)"}]},
       "mark": {"type": "text", "align": "right", "baseline": "middle", "dx": 3, "dy": 16, "fontSize": 12, "color": "#333"},
       "encoding": {"y": {"field": "y", "type": "quantitative"}, "text": {"field": "t"}}}
    ]
  },
  {
    "width": 229, "height": 142,
    "layer": [
      {"data": {"name": "b"},
       "mark": {"type": "rule", "strokeDash": [4,3], "strokeWidth": 0.8},
       "encoding": {
         "x": {"field": "c", "type": "nominal", "sort": ["Ff8","Ff12","Fi8","Fi12","intact"], "scale": {"paddingInner": 0.5, "paddingOuter": 0.25}, "axis": {"title": null, "labelAngle": 0}},
         "y": {"field": "lo", "type": "quantitative", "scale": {"domain": [-0.46, 23.7], "nice": false}, "axis": {"values": [0,5,10,15,20], "title": "coefficient of variance [%]", "titlePadding": 2}},
         "y2": {"field": "hi"},
         "color": {"datum": "upper and lower quartiles", "type": "nominal", "scale": {"domain": ["upper and lower quartiles","medians","weight means"], "range": ["#a8a8a8","#333333","#ec5a5a"]},
           "legend": {"orient": "top-right", "symbolType": "M-2,0H2", "symbolSize": 49, "symbolStrokeWidth": 1.2, "labelFontSize": 7, "labelOffset": 10, "rowPadding": 1, "offset": 4,
             "encode": {"symbols": {"update": {"strokeDash": {"signal": "datum.value === 'upper and lower quartiles' ? [4,3] : [1,0]"}}}}}}
       }},
      {"data": {"name": "b"}, "mark": {"type": "tick", "color": "#a8a8a8", "size": 9, "thickness": 0.8}, "encoding": {"x": {"field": "c", "type": "nominal", "sort": ["Ff8","Ff12","Fi8","Fi12","intact"]}, "y": {"field": "lo", "type": "quantitative"}}},
      {"data": {"name": "b"}, "mark": {"type": "tick", "color": "#a8a8a8", "size": 9, "thickness": 0.8}, "encoding": {"x": {"field": "c", "type": "nominal", "sort": ["Ff8","Ff12","Fi8","Fi12","intact"]}, "y": {"field": "hi", "type": "quantitative"}}},
      {"data": {"name": "b"},
       "mark": {"type": "bar", "stroke": "#9fb0bc", "strokeWidth": 0.8},
       "encoding": {
         "x": {"field": "c", "type": "nominal", "sort": ["Ff8","Ff12","Fi8","Fi12","intact"]},
         "y": {"field": "q1", "type": "quantitative"},
         "y2": {"field": "q3"},
         "fill": {"field": "c", "type": "nominal", "scale": {"domain": ["Ff8","Ff12","Fi8","Fi12","intact"], "range": ["#fbe6bb","#f4cdbf","#d3ebf8","#c3dcee","#cfcfcf"]}, "legend": null}
       }},
      {"data": {"name": "b"},
       "mark": {"type": "tick", "thickness": 2, "size": 23},
       "encoding": {"x": {"field": "c", "type": "nominal", "sort": ["Ff8","Ff12","Fi8","Fi12","intact"]}, "y": {"field": "med", "type": "quantitative"}, "color": {"datum": "medians", "type": "nominal"}}},
      {"data": {"name": "b"},
       "mark": {"type": "line", "strokeWidth": 1.2, "point": {"filled": true, "size": 14}},
       "encoding": {"x": {"field": "c", "type": "nominal", "sort": ["Ff8","Ff12","Fi8","Fi12","intact"]}, "y": {"field": "mean", "type": "quantitative"}, "color": {"datum": "weight means", "type": "nominal"}}},
      {"data": {"values": [{"t": "(b)"}]},
       "mark": {"type": "text", "align": "right", "baseline": "middle", "dx": 22, "dy": 16, "fontSize": 12, "color": "#333"},
       "encoding": {"x": {"datum": "intact"}, "y": {"datum": -0.46}, "text": {"field": "t"}}}
    ]
  },
  {
    "width": 229, "height": 144,
    "encoding": {
      "x": {"field": "x", "type": "quantitative", "scale": {"domain": [0, 103.5], "nice": false}, "axis": {"values": [0,10,20,30,40,50,60,70,80,90,100], "title": "sample length [mm]", "titlePadding": 0}}
    },
    "layer": [
      {"data": {"name": "cd"}, "transform": [{"filter": "datum.p === 'c'"}],
       "mark": {"type": "area", "fillOpacity": 0.55, "stroke": "#8a8a7a", "strokeWidth": 0.6, "strokeOpacity": 0.6},
       "encoding": {
         "y": {"field": "lo", "type": "quantitative", "scale": {"domain": [0, 20000], "nice": false}, "axis": {"values": [5000,10000,15000,20000], "labelExpr": "datum.value >= 10000 ? format(datum.value, ',') : format(datum.value, 'd')", "title": "ρCT []", "titlePadding": 2}},
         "y2": {"field": "hi"},
         "fill": {"field": "s", "type": "nominal", "scale": {"domain": ["mean Ff8","mean Ff12","mean Fi8","mean Fi12","mean intact"], "range": ["#f7c95c","#f08a78","#8fd3f3","#5a9bd0","#555555"]}, "legend": null}
       }},
      {"data": {"name": "cd"}, "transform": [{"filter": "datum.p === 'c'"}],
       "mark": {"type": "line", "strokeDash": [3,2], "strokeWidth": 0.8, "opacity": 0.8},
       "encoding": {
         "y": {"field": "md", "type": "quantitative"},
         "stroke": {"field": "s", "type": "nominal", "scale": {"domain": ["mean Ff8","mean Ff12","mean Fi8","mean Fi12","mean intact"], "range": ["#b59a50","#b0604a","#6aa0d0","#5070b0","#555555"]}, "legend": null}
       }},
      {"data": {"name": "cd"}, "transform": [{"filter": "datum.p === 'c'"}],
       "mark": {"type": "line", "strokeWidth": 1.3},
       "encoding": {
         "y": {"field": "m", "type": "quantitative"},
         "color": {"field": "s", "type": "nominal", "scale": {"domain": ["mean Ff8","mean Ff12","mean Fi8","mean Fi12","mean intact","medians","standard deviations"], "range": ["#c8b43a","#b55a1e","#6aaae6","#2f55c0","#111111","#888888","#aaaaaa"]},
           "legend": {"orient": "none", "legendX": 77, "legendY": 161, "direction": "horizontal", "symbolType": "stroke", "symbolSize": 121, "symbolStrokeWidth": 1.3, "labelFontSize": 6.5, "labelOffset": 2, "columnPadding": 3,
             "encode": {"symbols": {"update": {
               "shape": {"signal": "datum.value === 'standard deviations' ? 'M-1,-0.5H1V0.5H-1Z' : 'stroke'"},
               "strokeDash": {"signal": "datum.value === 'medians' ? [3,3] : [1,0]"},
               "fill": {"signal": "datum.value === 'standard deviations' ? '#aaaaaa' : 'transparent'"},
               "stroke": {"signal": "datum.value === 'standard deviations' ? '#999999' : scale('color', datum.value)"}
             }}}}}
       }},
      {"data": {"values": [{"x": 103.5, "y": 0, "t": "(c)"}]},
       "mark": {"type": "text", "align": "right", "baseline": "middle", "dx": 3, "dy": 16, "fontSize": 12, "color": "#333"},
       "encoding": {"y": {"field": "y", "type": "quantitative"}, "text": {"field": "t"}}}
    ]
  },
  {
    "width": 229, "height": 144,
    "encoding": {
      "x": {"field": "x", "type": "quantitative", "scale": {"domain": [0, 103.5], "nice": false}, "axis": {"values": [0,10,20,30,40,50,60,70,80,90,100], "title": "sample length [mm]", "titlePadding": 0}}
    },
    "layer": [
      {"data": {"name": "cd"}, "transform": [{"filter": "datum.p === 'd'"}],
       "mark": {"type": "area", "fillOpacity": 0.5, "stroke": "#7a8a9a", "strokeWidth": 0.6, "strokeOpacity": 0.6},
       "encoding": {
         "y": {"field": "lo", "type": "quantitative", "scale": {"domain": [0, 20000], "nice": false}, "axis": {"values": [5000,10000,15000,20000], "labelExpr": "datum.value >= 10000 ? format(datum.value, ',') : format(datum.value, 'd')", "title": "ρCT []", "titlePadding": 2}},
         "y2": {"field": "hi"},
         "fill": {"field": "s", "type": "nominal", "scale": {"domain": ["mean Ff8","mean Ff12","mean Fi8","mean Fi12","mean intact"], "range": ["#f7c95c","#f08a78","#8fd3f3","#5a9bd0","#555555"]}, "legend": null}
       }},
      {"data": {"name": "cd"}, "transform": [{"filter": "datum.p === 'd'"}],
       "mark": {"type": "line", "strokeDash": [3,2], "strokeWidth": 0.8, "opacity": 0.8},
       "encoding": {
         "y": {"field": "md", "type": "quantitative"},
         "stroke": {"field": "s", "type": "nominal", "scale": {"domain": ["mean Ff8","mean Ff12","mean Fi8","mean Fi12","mean intact"], "range": ["#b59a50","#b0604a","#6aa0d0","#5070b0","#555555"]}, "legend": null}
       }},
      {"data": {"name": "cd"}, "transform": [{"filter": "datum.p === 'd'"}],
       "mark": {"type": "line", "strokeWidth": 1.3},
       "encoding": {
         "y": {"field": "m", "type": "quantitative"},
         "color": {"field": "s", "type": "nominal", "scale": {"domain": ["mean Ff8","mean Ff12","mean Fi8","mean Fi12","mean intact","medians","standard deviations"], "range": ["#c8b43a","#b55a1e","#6aaae6","#2f55c0","#111111","#888888","#aaaaaa"]}, "legend": null}
       }},
      {"data": {"values": [{"x": 103.5, "y": 0, "t": "(d)"}]},
       "mark": {"type": "text", "align": "right", "baseline": "middle", "dx": 3, "dy": 16, "fontSize": 12, "color": "#333"},
       "encoding": {"y": {"field": "y", "type": "quantitative"}, "text": {"field": "t"}}}
    ]
  }
]
}
